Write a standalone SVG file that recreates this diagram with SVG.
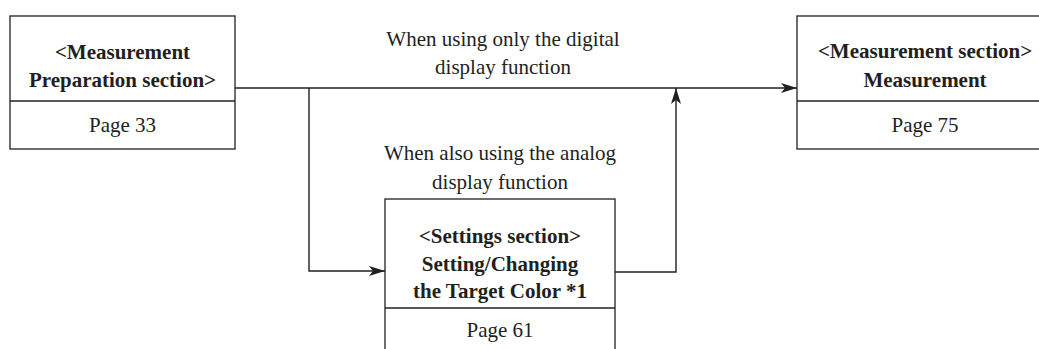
<svg xmlns="http://www.w3.org/2000/svg" width="1039" height="349" viewBox="0 0 1039 349">
<style>
.box{fill:#fff;stroke:#231f20;stroke-width:1.3}
.div{stroke:#231f20;stroke-width:1.3}
.t{font-family:"Liberation Serif","Times New Roman",serif;font-size:21px;fill:#231f20;text-anchor:middle}
.b{font-weight:bold}
.conn{fill:none;stroke:#231f20;stroke-width:1.4}
</style>
<defs>
<marker id="ah" viewBox="0 0 16 10" refX="16" refY="5" markerWidth="16" markerHeight="10" markerUnits="userSpaceOnUse" orient="auto">
<path d="M0,0 L16,5 L0,10 L4,5 Z" fill="#231f20"/>
</marker>
</defs>
<rect width="1039" height="349" fill="#fff"/>
<g id="connectors">
<path class="conn" d="M235,88 H797" marker-end="url(#ah)"/>
<path class="conn" d="M309,88 V271 H385" marker-end="url(#ah)"/>
<path class="conn" d="M615,272 H676 V88" marker-end="url(#ah)"/>
</g>
<g id="label-digital">
<text class="t" x="503" y="46">When using only the digital</text>
<text class="t" x="503" y="74">display function</text>
</g>
<g id="label-analog">
<text class="t" x="500" y="160">When also using the analog</text>
<text class="t" x="500" y="189">display function</text>
</g>
<g id="node-prep">
<rect class="box" x="10" y="16" width="225" height="133"/>
<line class="div" x1="10" y1="101" x2="235" y2="101"/>
<text class="t b" x="122.5" y="59">&lt;Measurement</text>
<text class="t b" x="122.5" y="87">Preparation section&gt;</text>
<text class="t" x="122.5" y="132">Page 33</text>
</g>
<g id="node-measure">
<rect class="box" x="797" y="16" width="256" height="133"/>
<line class="div" x1="797" y1="101" x2="1053" y2="101"/>
<text class="t b" x="925" y="58">&lt;Measurement section&gt;</text>
<text class="t b" x="925" y="87">Measurement</text>
<text class="t" x="925" y="132">Page 75</text>
</g>
<g id="node-settings">
<rect class="box" x="385" y="199" width="230" height="170"/>
<line class="div" x1="385" y1="308" x2="615" y2="308"/>
<text class="t b" x="500" y="243">&lt;Settings section&gt;</text>
<text class="t b" x="500" y="271">Setting/Changing</text>
<text class="t b" x="500" y="298">the Target Color *1</text>
<text class="t" x="500" y="337">Page 61</text>
</g>
</svg>
